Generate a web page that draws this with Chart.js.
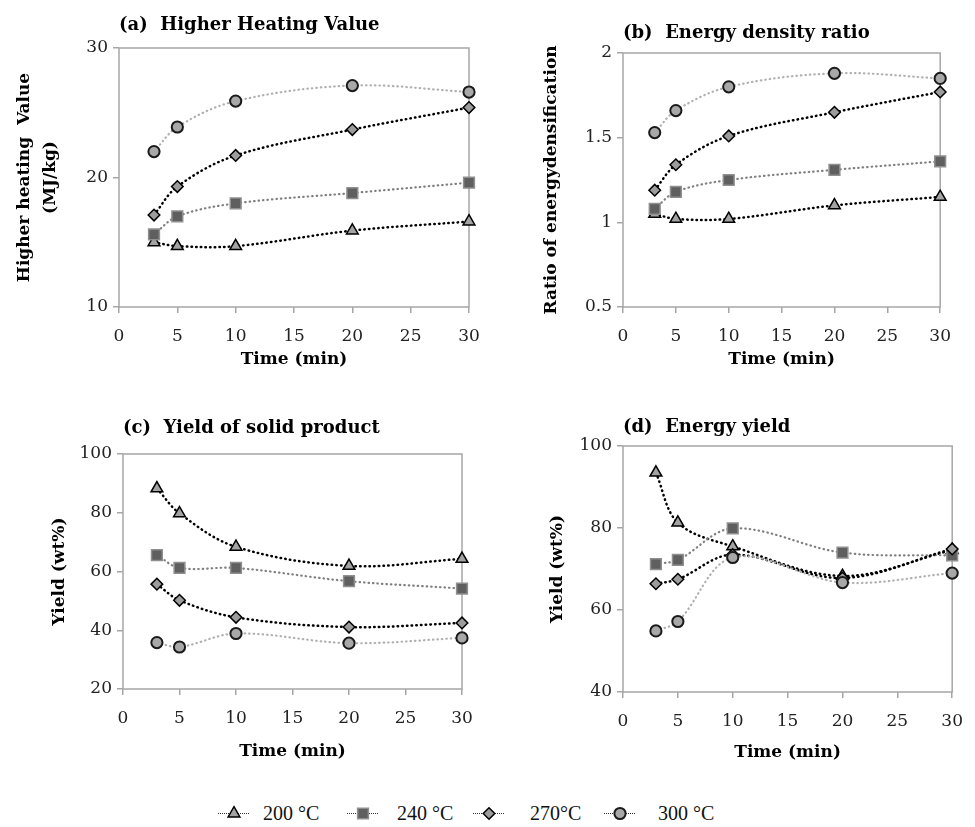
<!DOCTYPE html>
<html>
<head>
<meta charset="utf-8">
<script src="https://cdn.jsdelivr.net/npm/chart.js@4/dist/chart.umd.min.js"></script>
<style>
  html, body { margin: 0; padding: 0; background: #fff; overflow: hidden; }
  #wrap { position: relative; width: 975px; height: 827px; }
  canvas { position: absolute; }
  .lg { position: absolute; top: 800px; font: 20px "Liberation Serif", serif; color: #111; line-height: 26px; white-space: pre; }
</style>
</head>
<body>
<div id="wrap">
  <canvas id="cA" width="510" height="380" style="left:0;top:0"></canvas>
  <canvas id="cB" width="434" height="380" style="left:530px;top:0"></canvas>
  <canvas id="cC" width="508" height="380" style="left:0;top:400px"></canvas>
  <canvas id="cD" width="536" height="380" style="left:440px;top:400px"></canvas>
</div>
<script>
// reaction time (min)
const times = [3, 5, 10, 20, 30];
const seriesNames = ['200 °C', '240 °C', '270°C', '300 °C'];

// (a) higher heating value, MJ/kg
const hhv200 = [15.0, 14.7, 14.7, 15.9, 16.6];
const hhv240 = [15.6, 17.0, 18.0, 18.8, 19.6];
const hhv270 = [17.1, 19.3, 21.7, 23.7, 25.4];
const hhv300 = [22.0, 23.9, 25.9, 27.1, 26.6];

// (b) ratio of energy densification
const edr200 = [1.05, 1.02, 1.02, 1.10, 1.15];
const edr240 = [1.08, 1.18, 1.25, 1.31, 1.36];
const edr270 = [1.19, 1.34, 1.51, 1.65, 1.77];
const edr300 = [1.53, 1.66, 1.80, 1.88, 1.85];

// (c) yield of solid product, wt%
const sy200 = [88.3, 79.8, 68.4, 61.9, 64.3];
const sy240 = [65.6, 61.2, 61.2, 56.7, 54.2];
const sy270 = [55.7, 50.2, 44.4, 41.1, 42.5];
const sy300 = [35.8, 34.3, 38.9, 35.6, 37.4];

// (d) energy yield, wt%
const ey200 = [93.5, 81.3, 75.5, 68.3, 74.6];
const ey240 = [71.2, 72.2, 79.9, 74.0, 73.3];
const ey270 = [66.4, 67.5, 73.5, 67.8, 74.9];
const ey300 = [54.9, 57.2, 72.8, 66.7, 69.0];

// axis ranges [min, max, step]
const xRange = [0, 30, 5];
const rangeA = [10, 30, 10];
const rangeB = [0.5, 2, 0.5];
const rangeC = [20, 100, 20];
const rangeD = [40, 100, 20];

const styles = [
  { pointStyle: 'triangle', radius: 6.8, fill: '#a3a3a3', border: '#000', bw: 1.5, line: '#000', lw: 2.5, dash: [0.5, 4.2] },
  { pointStyle: 'rect', radius: 7.6, fill: '#5f5f5f', border: '#8f8f8f', bw: 1.5, line: '#7f7f7f', lw: 2.2, dash: [0.5, 4] },
  { pointStyle: 'rectRot', radius: 5.8, fill: '#9c9c9c', border: '#000', bw: 1.5, line: '#000', lw: 2.5, dash: [0.5, 4.2] },
  { pointStyle: 'circle', radius: 5.6, fill: '#a8a8a8', border: '#1a1a1a', bw: 2, line: '#b0b0b0', lw: 2.2, dash: [0.5, 4] }
];

const serif = 'DejaVu Serif';

const framePlugin = {
  id: 'frame',
  beforeDatasetsDraw(chart) {
    const { ctx, chartArea: a } = chart;
    ctx.save();
    ctx.strokeStyle = '#a6a6a6';
    ctx.lineWidth = 1.5;
    ctx.strokeRect(a.left, a.top, a.right - a.left, a.bottom - a.top);
    ctx.restore();
  }
};

function makeDatasets(series) {
  return series.map((vals, i) => {
    const s = styles[i];
    return {
      label: seriesNames[i],
      data: times.map((t, k) => ({ x: t, y: vals[k] })),
      order: 4 - i,
      borderColor: s.line,
      borderWidth: s.lw,
      borderDash: s.dash,
      borderCapStyle: 'round',
      tension: 0.35,
      pointStyle: s.pointStyle,
      pointRadius: s.radius,
      pointBackgroundColor: s.fill,
      pointBorderColor: s.border,
      pointBorderWidth: s.bw,
      clip: false
    };
  });
}

function makeChart(id, p) {
  new Chart(document.getElementById(id), {
    type: 'line',
    data: { datasets: makeDatasets(p.series) },
    options: {
      responsive: false,
      animation: false,
      events: [],
      layout: { padding: { left: 0, right: p.padRight, top: 0, bottom: 0 } },
      plugins: {
        legend: { display: false },
        tooltip: { enabled: false },
        title: {
          display: true,
          text: p.title,
          color: '#000',
          fullSize: false,
          align: 'start',
          font: { family: serif, size: 18, weight: 'bold', lineHeight: 1.2 },
          padding: { top: p.titleTop, bottom: p.titleBottom }
        }
      },
      scales: {
        x: {
          type: 'linear',
          min: xRange[0], max: xRange[1],
          afterFit: s => { s.height = p.xHeight; },
          border: { display: false },
          grid: { drawOnChartArea: false, drawTicks: true, tickLength: 6, color: '#a6a6a6', lineWidth: 1.5 },
          ticks: { stepSize: xRange[2], padding: 13, color: '#222', font: { family: serif, size: 17 } },
          title: {
            display: true, text: 'Time (min)', color: '#000',
            font: { family: serif, size: 17, weight: 'bold', lineHeight: 1.2 },
            padding: { top: 0, bottom: p.xTitleBottom }
          }
        },
        y: {
          min: p.range[0], max: p.range[1],
          afterFit: s => { s.width = p.yWidth; },
          border: { display: false },
          grid: { drawOnChartArea: false, drawTicks: true, tickLength: 6, color: '#a6a6a6', lineWidth: 1.5 },
          ticks: {
            stepSize: p.range[2], padding: 5, color: '#222', font: { family: serif, size: 17 },
            callback: v => String(+v.toFixed(2))
          },
          title: {
            display: true, text: p.yTitle, color: '#000',
            font: { family: serif, size: 17, weight: 'bold', lineHeight: p.yLine },
            padding: { top: p.yTitleTop, bottom: 0 }
          }
        }
      }
    },
    plugins: [framePlugin]
  });
}

makeChart('cA', {
  series: [hhv200, hhv240, hhv270, hhv300], range: rangeA,
  title: '(a)  Higher Heating Value', titleTop: 14.5, titleBottom: 11.9,
  yTitle: ['Higher heating  Value', '(MJ/kg)'], yLine: 1.55, yTitleTop: 11,
  yWidth: 119, padRight: 41, xHeight: 73, xTitleBottom: 9.8
});
makeChart('cB', {
  series: [edr200, edr240, edr270, edr300], range: rangeB,
  title: '(b)  Energy density ratio', titleTop: 22.5, titleBottom: 8.9,
  yTitle: 'Ratio of energydensification', yLine: 1.2, yTitleTop: 11.8,
  yWidth: 93, padRight: 17, xHeight: 73, xTitleBottom: 9.8
});
makeChart('cC', {
  series: [sy200, sy240, sy270, sy300], range: rangeC,
  title: '(c)  Yield of solid product', titleTop: 17.5, titleBottom: 14.9,
  yTitle: 'Yield (wt%)', yLine: 1.2, yTitleTop: 49.8,
  yWidth: 123, padRight: 46, xHeight: 91, xTitleBottom: 17.8
});
makeChart('cD', {
  series: [ey200, ey240, ey270, ey300], range: rangeD,
  title: '(d)  Energy yield', titleTop: 16.5, titleBottom: 7.9,
  yTitle: 'Yield (wt%)', yLine: 1.2, yTitleTop: 107.8,
  yWidth: 183, padRight: 22, xHeight: 88, xTitleBottom: 16.8
});

// legend: dotted segment with marker, then label
const legendMarkX = [234, 363, 489, 620];
const legendTextX = [263, 397, 530, 658];
const wrap = document.getElementById('wrap');
seriesNames.forEach((name, i) => {
  const s = styles[i];
  const c = document.createElement('canvas');
  c.width = 40; c.height = 26;
  c.style.left = (legendMarkX[i] - 20) + 'px';
  c.style.top = '800px';
  wrap.appendChild(c);
  const ctx = c.getContext('2d');
  ctx.strokeStyle = '#333';
  ctx.lineWidth = 1;
  ctx.setLineDash([1, 1]);
  ctx.beginPath(); ctx.moveTo(4, 13.5); ctx.lineTo(36, 13.5); ctx.stroke();
  ctx.setLineDash([]);
  ctx.fillStyle = s.fill;
  ctx.strokeStyle = s.border;
  ctx.lineWidth = s.bw;
  Chart.helpers.drawPoint(ctx, { pointStyle: s.pointStyle, radius: s.radius, borderWidth: s.bw, rotation: 0 }, 20, 13.5);
  const t = document.createElement('span');
  t.className = 'lg';
  t.style.left = legendTextX[i] + 'px';
  t.textContent = name;
  wrap.appendChild(t);
});
</script>
</body>
</html>
